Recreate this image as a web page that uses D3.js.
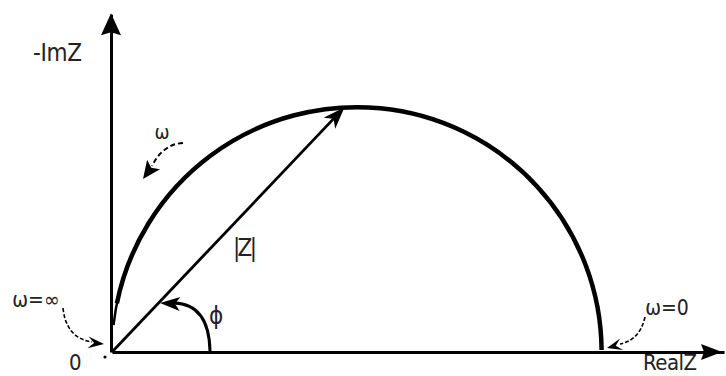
<!DOCTYPE html>
<html>
<head>
<meta charset="utf-8">
<script src="https://cdn.jsdelivr.net/npm/d3@7"></script>
<style>
  body { margin: 0; background: #fff; }
  svg { display: block; }
  .lbl { font-family: "Liberation Sans Narrow", "DejaVu Sans Condensed", "Liberation Sans", sans-serif; fill: #222; }
</style>
</head>
<body>
<svg id="chart" width="726" height="376"></svg>
<script>
// Nyquist plot of a parallel RC element (units of R)
var realRange = [0, 1.25];      // Re(Z) axis extent
var imagRange = [0, 0.69];      // -Im(Z) axis extent
var intercepts = [0, 1];        // arc meets the real axis at w=inf and w=0
var zTip = [0.475, 0.5];        // end of the |Z| vector on the arc
var labels = ["-ImZ", "RealZ", "|Z|", "\u03d5", "\u03c9", "\u03c9=\u221e", "\u03c9=0", "0"];

var svg = d3.select("#chart");
var ox = 112, oy = 352;
var unit = 489.6;

var x = d3.scaleLinear().domain(realRange).range([ox, ox + (realRange[1] - realRange[0]) * unit]);
var y = d3.scaleLinear().domain(imagRange).range([oy, oy - (imagRange[1] - imagRange[0]) * unit]);

// arrowhead polygon: tip point, direction angle (rad), length, half width, notch depth
function head(tx, ty, ang, len, hw, notch) {
  var c = Math.cos(ang), s = Math.sin(ang);
  var bx = tx - c * len, by = ty - s * len;
  var nx = tx - c * (len - notch), ny = ty - s * (len - notch);
  return [[tx, ty], [bx - s * hw, by + c * hw], [nx, ny], [bx + s * hw, by - c * hw]];
}
function drawHead(pts) {
  svg.append("polygon").attr("points", pts.map(function(p){ return p.join(","); }).join(" ")).attr("fill", "#000");
}

// axes (no ticks)
svg.append("g").attr("transform", "translate(0," + y(0) + ")")
  .call(d3.axisBottom(x).ticks(0).tickSizeOuter(0));
svg.append("g").attr("transform", "translate(" + (x(0) - 1) + ",0)")
  .call(d3.axisLeft(y).ticks(0).tickSizeOuter(0));
svg.selectAll(".domain").attr("stroke", "#000").attr("stroke-width", 3);
drawHead(head(x(realRange[1]) - 2, y(0), 0, 21, 8, 3));
drawHead(head(x(0) - 1, y(imagRange[1]) - 1, -Math.PI / 2, 22, 10, 3));

// semicircle
var cx = x(d3.mean(intercepts)), cy = y(0);
var r = x(intercepts[1]) - cx;
function arcPath(a0, a1) {
  var p = d3.path();
  p.moveTo(cx + r * Math.cos(a0), cy + r * Math.sin(a0));
  p.arc(cx, cy, r, a0, a1);
  return p.toString();
}
svg.append("path").attr("d", arcPath(Math.PI + 0.11, Math.PI + 0.25))
  .attr("fill", "none").attr("stroke", "#000").attr("stroke-width", 2.5);
svg.append("path").attr("d", arcPath(Math.PI + 0.2, 2 * Math.PI - 0.008))
  .attr("fill", "none").attr("stroke", "#000").attr("stroke-width", 4.5);

// |Z| vector
var tx = x(zTip[0]), ty = y(zTip[1]);
var ang = Math.atan2(ty - y(0), tx - x(0));
svg.append("line").attr("x1", x(0)).attr("y1", y(0))
  .attr("x2", tx - Math.cos(ang) * 12).attr("y2", ty - Math.sin(ang) * 12)
  .attr("stroke", "#000").attr("stroke-width", 2.8);
drawHead(head(tx, ty, ang, 22, 8, 6));

// phase angle arrow
svg.append("path")
  .attr("d", "M" + (ox + 98) + "," + (oy - 1) + " Q" + (ox + 97) + "," + (oy - 48) + " " + (ox + 62) + "," + (oy - 49))
  .attr("fill", "none").attr("stroke", "#000").attr("stroke-width", 3);
drawHead(head(ox + 48, oy - 49, Math.PI + 0.05, 20, 7, 5));

// direction of increasing w
svg.append("path").attr("d", "M183,143 Q163,144 152,166")
  .attr("fill", "none").attr("stroke", "#000").attr("stroke-width", 2).attr("stroke-dasharray", "5,3");
drawHead(head(143, 179, 2.2, 18, 8, 4));

// w = inf marker
svg.append("path").attr("d", "M63,308 Q66,338 92,342")
  .attr("fill", "none").attr("stroke", "#000").attr("stroke-width", 1.6).attr("stroke-dasharray", "4,2");
drawHead(head(104, 344, 0.1, 16, 6, 6));
svg.append("circle").attr("cx", 105).attr("cy", 357).attr("r", 1.6).attr("fill", "#000");

// w = 0 marker
svg.append("path").attr("d", "M645,317 Q640,340 620,344")
  .attr("fill", "none").attr("stroke", "#000").attr("stroke-width", 1.6).attr("stroke-dasharray", "4,2");
drawHead(head(607, 348, Math.PI - 0.25, 15, 6, 6));

// labels: text, x, baseline, size, fitted width (0 = natural), anchor
var lab = [
  [labels[0], 33, 61, 24, 49, "start"],
  [labels[1], 643, 370, 22, 54, "start"],
  [labels[2], 233, 256, 24, 24, "start"],
  [labels[3], 216, 324, 24, 0, "middle"],
  [labels[4], 162, 139, 20, 0, "middle"],
  [labels[5], 36, 307, 21, 0, "middle"],
  [labels[6], 667, 315, 21, 0, "middle"],
  [labels[7], 69, 370, 22, 0, "start"]
];
lab.forEach(function(d) {
  var t = svg.append("text").attr("class", "lbl").attr("x", d[1]).attr("y", d[2])
    .attr("text-anchor", d[5]).style("font-size", d[3] + "px").text(d[0]);
  if (d[4]) t.attr("textLength", d[4]).attr("lengthAdjust", "spacing");
});
</script>
</body>
</html>
